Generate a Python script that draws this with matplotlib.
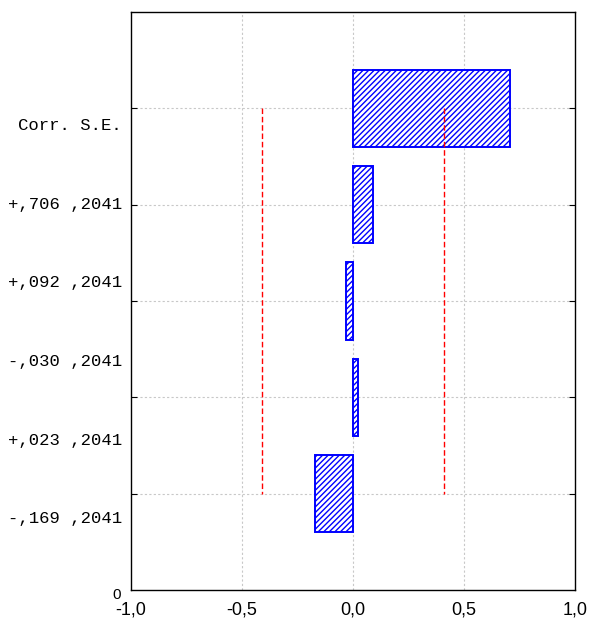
import numpy as np
import matplotlib
matplotlib.use("Agg")
import matplotlib.pyplot as plt

# autocorrelation by lag, with standard errors
lags = [1, 2, 3, 4, 5]
corr = [0.706, 0.092, -0.030, 0.023, -0.169]
se = [0.2041, 0.2041, 0.2041, 0.2041, 0.2041]
xticks = [-1.0, -0.5, 0.0, 0.5, 1.0]
xlabels = ["-1,0", "-0,5", "0,0", "0,5", "1,0"]


def fmt_corr(v):
    s = "%.3f" % abs(v)
    return ("+" if v >= 0 else "-") + s[1:].replace(".", ",")


def fmt_se(v):
    return ("%.4f" % v)[1:].replace(".", ",")


plt.rcParams["hatch.color"] = "#0000ff"
plt.rcParams["hatch.linewidth"] = 1.0

fig = plt.figure(figsize=(5.93, 6.21), dpi=100)
ax = fig.add_axes([131 / 593, 1 - 590 / 621, 444 / 593, 578 / 621])

ymax = 6
ypos = [ymax - k for k in lags]

# grid
for x in [-0.5, 0.0, 0.5]:
    ax.axvline(x, color="#c8c8c8", lw=0.8, ls=(0, (2, 2)), zorder=0)
for y in ypos:
    ax.axhline(y, color="#c8c8c8", lw=0.8, ls=(0, (2, 2)), zorder=0)

ax.barh(ypos, corr, height=0.8, left=0, color="white", edgecolor="#0000ff",
        hatch="//////", linewidth=1.4, zorder=2)

# +/- 2 S.E. limits
lim = 2 * np.array(se)
ax.plot(-lim, ypos, color="red", lw=1, ls=(0, (4, 2)), zorder=3)
ax.plot(lim, ypos, color="red", lw=1, ls=(0, (4, 2)), zorder=3)

ax.set_xlim(-1, 1)
ax.set_ylim(0, ymax)
ax.set_xticks(xticks)
ax.set_xticklabels(xlabels, fontsize=13, family="Liberation Sans")
ax.tick_params(axis="x", length=0, pad=8)
ax.set_yticks(ypos)
ax.set_yticklabels([])
ax.tick_params(axis="y", direction="in", length=4, left=True, right=True)
for s in ax.spines.values():
    s.set_linewidth(1.0)

# column of Corr./S.E. labels
labels = ["Corr. S.E."] + [fmt_corr(c) + " " + fmt_se(e) for c, e in zip(corr, se)]
label_y = np.linspace(4.82, 0.74, len(labels))
for txt, y in zip(labels, label_y):
    ax.text(-1.04, y, txt, ha="right", va="center", fontsize=12.4,
            family="Liberation Mono", clip_on=False)
ax.text(-1.065, -0.05, "0", ha="center", va="center", fontsize=11,
        family="Liberation Sans", clip_on=False)

fig.savefig("out.png", dpi=100)
